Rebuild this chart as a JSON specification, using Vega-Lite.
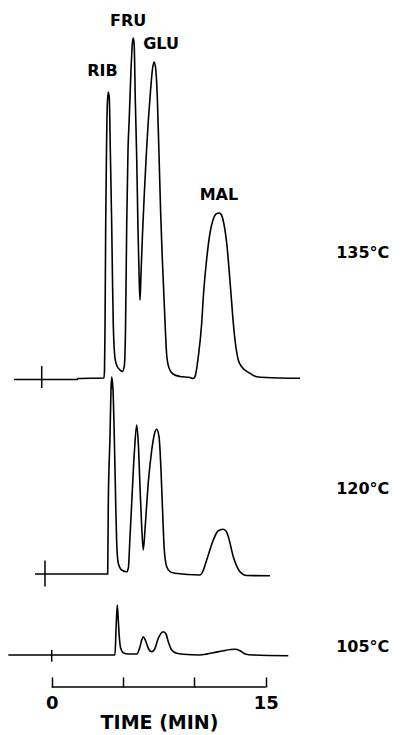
{
  "$schema": "https://vega.github.io/schema/vega-lite/v6.json",
  "width": 415,
  "height": 687,
  "autosize": "none",
  "padding": {"left": 0, "top": 0, "right": 0, "bottom": 48},
  "background": "white",
  "config": {"view": {"stroke": null}, "font": "DejaVu Sans"},
  "datasets": {
    "trace135": [
      {"t": -2.642, "s": -0.5}, {"t": 1.773, "s": -0.5}, {"t": 1.843, "s": 0.5}, {"t": 3.665, "s": 1},
      {"t": 3.7, "s": 9}, {"t": 3.735, "s": 49}, {"t": 3.784, "s": 154}, {"t": 3.84, "s": 229},
      {"t": 3.896, "s": 274}, {"t": 3.966, "s": 287}, {"t": 4.036, "s": 281}, {"t": 4.107, "s": 229},
      {"t": 4.205, "s": 154}, {"t": 4.261, "s": 99}, {"t": 4.317, "s": 54}, {"t": 4.436, "s": 21},
      {"t": 4.576, "s": 13}, {"t": 4.786, "s": 9}, {"t": 4.947, "s": 7.5}, {"t": 5.088, "s": 13},
      {"t": 5.172, "s": 49}, {"t": 5.256, "s": 154}, {"t": 5.347, "s": 229}, {"t": 5.438, "s": 262},
      {"t": 5.557, "s": 309}, {"t": 5.662, "s": 337}, {"t": 5.718, "s": 341}, {"t": 5.781, "s": 334},
      {"t": 5.858, "s": 279}, {"t": 5.957, "s": 221}, {"t": 6.048, "s": 149}, {"t": 6.132, "s": 99},
      {"t": 6.188, "s": 79}, {"t": 6.258, "s": 105}, {"t": 6.363, "s": 145}, {"t": 6.489, "s": 185},
      {"t": 6.643, "s": 228}, {"t": 6.769, "s": 258}, {"t": 6.924, "s": 288}, {"t": 7.064, "s": 310},
      {"t": 7.169, "s": 317}, {"t": 7.274, "s": 312}, {"t": 7.4, "s": 282}, {"t": 7.519, "s": 225},
      {"t": 7.638, "s": 165}, {"t": 7.75, "s": 121}, {"t": 7.905, "s": 69}, {"t": 8.059, "s": 24},
      {"t": 8.22, "s": 11}, {"t": 8.5, "s": 5}, {"t": 8.991, "s": 2.5}, {"t": 9.692, "s": 1.5},
      {"t": 9.902, "s": 0.5}, {"t": 10.042, "s": 2.3}, {"t": 10.273, "s": 22.3}, {"t": 10.511, "s": 55.7},
      {"t": 10.624, "s": 82}, {"t": 10.862, "s": 120}, {"t": 11.093, "s": 146}, {"t": 11.325, "s": 160},
      {"t": 11.514, "s": 165}, {"t": 11.745, "s": 166}, {"t": 11.899, "s": 164}, {"t": 12.025, "s": 158},
      {"t": 12.263, "s": 136}, {"t": 12.544, "s": 89}, {"t": 12.726, "s": 56}, {"t": 12.845, "s": 39},
      {"t": 13.076, "s": 19}, {"t": 13.315, "s": 12.3}, {"t": 13.896, "s": 5.7}, {"t": 14.366, "s": 2.3},
      {"t": 15.999, "s": 1}, {"t": 17.4, "s": 0.7}
    ],
    "trace120": [
      {"t": -1.17, "s": 0.5}, {"t": 3.924, "s": 0.5}, {"t": 3.966, "s": 71.2}, {"t": 4.085, "s": 137.8},
      {"t": 4.156, "s": 184.5}, {"t": 4.205, "s": 197.8}, {"t": 4.296, "s": 184.5}, {"t": 4.387, "s": 137.8},
      {"t": 4.485, "s": 71.2}, {"t": 4.555, "s": 31.2}, {"t": 4.667, "s": 11.2}, {"t": 4.905, "s": 4.5},
      {"t": 5.256, "s": 2.8}, {"t": 5.368, "s": 6.2}, {"t": 5.487, "s": 37.8}, {"t": 5.606, "s": 71.2},
      {"t": 5.788, "s": 121.2}, {"t": 5.957, "s": 149.5}, {"t": 6.069, "s": 131.2}, {"t": 6.188, "s": 87.8},
      {"t": 6.307, "s": 47.8}, {"t": 6.419, "s": 24.5}, {"t": 6.538, "s": 45}, {"t": 6.657, "s": 70},
      {"t": 6.769, "s": 92}, {"t": 7.008, "s": 124}, {"t": 7.19, "s": 140}, {"t": 7.358, "s": 145.2},
      {"t": 7.519, "s": 137.8}, {"t": 7.659, "s": 104.5}, {"t": 7.75, "s": 71.2}, {"t": 7.891, "s": 24.5},
      {"t": 8.059, "s": 7.8}, {"t": 8.29, "s": 2.8}, {"t": 8.64, "s": 1.2}, {"t": 10.392, "s": -0.5},
      {"t": 10.603, "s": 3.5}, {"t": 10.862, "s": 14.5}, {"t": 11.325, "s": 34.5}, {"t": 11.654, "s": 43.5},
      {"t": 11.983, "s": 45.2}, {"t": 12.214, "s": 43.5}, {"t": 12.376, "s": 37.8}, {"t": 12.726, "s": 17.8},
      {"t": 13.195, "s": 2.8}, {"t": 13.665, "s": -1}, {"t": 15.298, "s": -1.2}
    ],
    "trace105": [
      {"t": -3.041, "s": 0}, {"t": 4.436, "s": 0}, {"t": 4.506, "s": 25}, {"t": 4.597, "s": 50},
      {"t": 4.667, "s": 35}, {"t": 4.737, "s": 18.3}, {"t": 4.835, "s": 6.7}, {"t": 5.018, "s": 2.3},
      {"t": 5.368, "s": 1}, {"t": 5.957, "s": 1}, {"t": 6.188, "s": 8.3}, {"t": 6.307, "s": 15},
      {"t": 6.419, "s": 18.3}, {"t": 6.559, "s": 15}, {"t": 6.769, "s": 6.7}, {"t": 7.008, "s": 3.3},
      {"t": 7.239, "s": 6.7}, {"t": 7.47, "s": 16.7}, {"t": 7.821, "s": 23.3}, {"t": 8.01, "s": 21},
      {"t": 8.171, "s": 13.3}, {"t": 8.409, "s": 5}, {"t": 8.76, "s": 1.7}, {"t": 9.222, "s": 0.7},
      {"t": 10.392, "s": 0}, {"t": 11.325, "s": 2.3}, {"t": 12.025, "s": 4.3}, {"t": 12.845, "s": 5.7},
      {"t": 13.195, "s": 4.3}, {"t": 13.546, "s": 1}, {"t": 14.128, "s": 0}, {"t": 16.58, "s": -0.7}
    ],
    "ticks": [
      {"trace": "135", "t": -0.7, "s1": 13, "s2": -9},
      {"trace": "135", "t": 4.2, "s1": -3, "s2": -10},
      {"trace": "120", "t": -0.47, "s1": 14, "s2": -12},
      {"trace": "105", "t": 0, "s1": 5, "s2": -6.7}
    ],
    "peaks": [
      {"name": "RIB", "t": 3.56, "s": 308.5},
      {"name": "FRU", "t": 5.354, "s": 358},
      {"name": "GLU", "t": 7.66, "s": 335},
      {"name": "MAL", "t": 11.72, "s": 184}
    ],
    "temps": [
      {"trace": "135", "label": "135°C", "t": 21.8, "s": 126},
      {"trace": "120", "label": "120°C", "t": 21.8, "s": 86},
      {"trace": "105", "label": "105°C", "t": 21.8, "s": 8}
    ],
    "axisline": [{"t": 0, "t2": 15}]
  },
  "encoding": {
    "x": {
      "field": "t",
      "type": "quantitative",
      "scale": {"domain": [-3.623, 25.459], "nice": false, "zero": false},
      "axis": {
        "orient": "bottom",
        "values": [0, 5, 10, 15],
        "domain": false,
        "grid": false,
        "ticks": true,
        "tickSize": -10,
        "tickWidth": 1.5,
        "tickColor": "black",
        "labelExpr": "datum.value == 0 || datum.value == 15 ? datum.label : ''",
        "labelFont": "DejaVu Sans",
        "labelFontWeight": "bold",
        "labelFontSize": 18,
        "labelColor": "black",
        "labelPadding": 17,
        "title": "TIME (MIN)",
        "titleFont": "DejaVu Sans",
        "titleFontWeight": "bold",
        "titleFontSize": 19,
        "titleColor": "black",
        "titleX": 159,
        "titlePadding": 1
      }
    }
  },
  "layer": [
    {
      "layer": [
        {
          "data": {"name": "trace135"},
          "mark": {"type": "line", "color": "black", "strokeWidth": 1.6, "interpolate": "monotone"},
          "encoding": {"y": {"field": "s", "type": "quantitative", "scale": {"domain": [-308, 379], "nice": false, "zero": false}, "axis": null}}
        },
        {
          "data": {"name": "ticks"},
          "transform": [{"filter": "datum.trace == '135'"}],
          "mark": {"type": "rule", "color": "black", "strokeWidth": 1.5},
          "encoding": {"y": {"field": "s1", "type": "quantitative"}, "y2": {"field": "s2"}}
        },
        {
          "data": {"name": "peaks"},
          "mark": {"type": "text", "font": "DejaVu Sans", "fontWeight": "bold", "fontSize": 16, "color": "black", "baseline": "middle", "align": "center"},
          "encoding": {"y": {"field": "s", "type": "quantitative"}, "text": {"field": "name"}}
        },
        {
          "data": {"name": "temps"},
          "transform": [{"filter": "datum.trace == '135'"}],
          "mark": {"type": "text", "font": "DejaVu Sans", "fontWeight": "bold", "fontSize": 16, "color": "black", "baseline": "middle", "align": "center"},
          "encoding": {"y": {"field": "s", "type": "quantitative"}, "text": {"field": "label"}}
        }
      ]
    },
    {
      "layer": [
        {
          "data": {"name": "trace120"},
          "mark": {"type": "line", "color": "black", "strokeWidth": 1.6, "interpolate": "monotone"},
          "encoding": {"y": {"field": "s", "type": "quantitative", "scale": {"domain": [-112.5, 574.5], "nice": false, "zero": false}, "axis": null}}
        },
        {
          "data": {"name": "ticks"},
          "transform": [{"filter": "datum.trace == '120'"}],
          "mark": {"type": "rule", "color": "black", "strokeWidth": 1.5},
          "encoding": {"y": {"field": "s1", "type": "quantitative"}, "y2": {"field": "s2"}}
        },
        {
          "data": {"name": "temps"},
          "transform": [{"filter": "datum.trace == '120'"}],
          "mark": {"type": "text", "font": "DejaVu Sans", "fontWeight": "bold", "fontSize": 16, "color": "black", "baseline": "middle", "align": "center"},
          "encoding": {"y": {"field": "s", "type": "quantitative"}, "text": {"field": "label"}}
        }
      ]
    },
    {
      "layer": [
        {
          "data": {"name": "trace105"},
          "mark": {"type": "line", "color": "black", "strokeWidth": 1.6, "interpolate": "monotone"},
          "encoding": {"y": {"field": "s", "type": "quantitative", "scale": {"domain": [-32, 655], "nice": false, "zero": false}, "axis": null}}
        },
        {
          "data": {"name": "ticks"},
          "transform": [{"filter": "datum.trace == '105'"}],
          "mark": {"type": "rule", "color": "black", "strokeWidth": 1.5},
          "encoding": {"y": {"field": "s1", "type": "quantitative"}, "y2": {"field": "s2"}}
        },
        {
          "data": {"name": "temps"},
          "transform": [{"filter": "datum.trace == '105'"}],
          "mark": {"type": "text", "font": "DejaVu Sans", "fontWeight": "bold", "fontSize": 16, "color": "black", "baseline": "middle", "align": "center"},
          "encoding": {"y": {"field": "s", "type": "quantitative"}, "text": {"field": "label"}}
        }
      ]
    },
    {
      "data": {"name": "axisline"},
      "mark": {"type": "rule", "color": "black", "strokeWidth": 1.5},
      "encoding": {"x2": {"field": "t2"}, "y": {"value": "height"}}
    }
  ],
  "resolve": {"scale": {"y": "independent"}}
}
